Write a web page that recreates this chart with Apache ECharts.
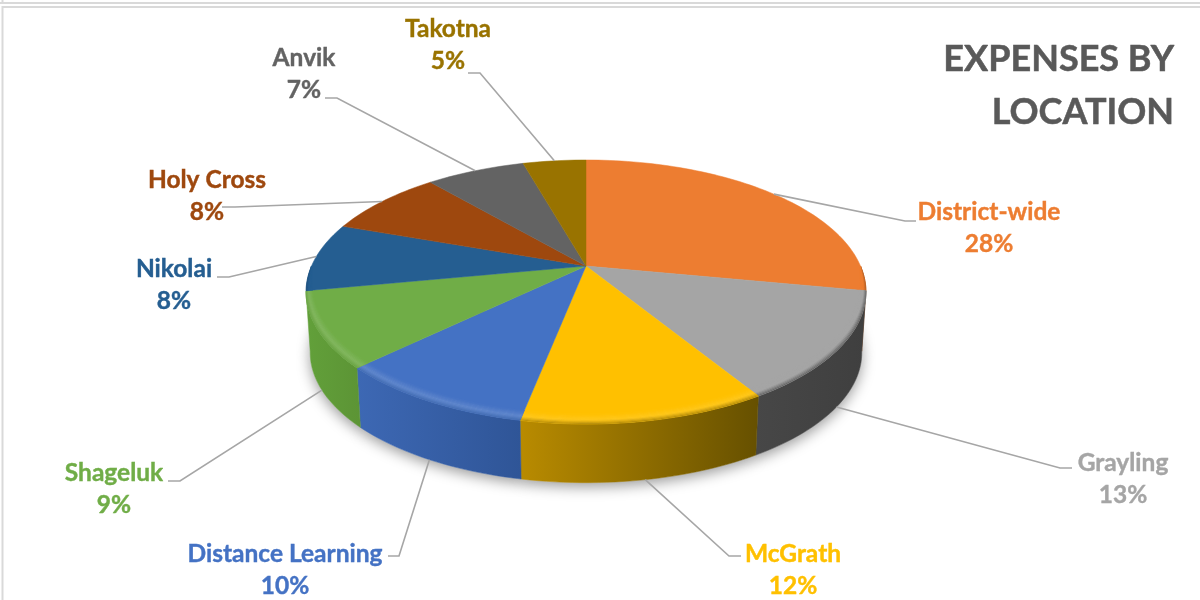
<!DOCTYPE html>
<html lang="en">
<head>
    <meta charset="UTF-8">
    <title>Expenses by location</title>
    <script src="https://cdn.jsdelivr.net/npm/echarts@6/dist/echarts.min.js"></script>
    <style>
        html, body { margin: 0; padding: 0; background: #fff; }
        #main { width: 1200px; height: 600px; }
    </style>
</head>
<body>
<div id="main"></div>
<script type="text/javascript">
    var titleText = 'EXPENSES BY\nLOCATION';
    var locations = ['District-wide', 'Grayling', 'McGrath', 'Distance Learning', 'Shageluk', 'Nikolai', 'Holy Cross', 'Anvik', 'Takotna'];
    var percentLabels = [28, 13, 12, 10, 9, 8, 8, 7, 5];
    var shares = [28, 13.25, 11.85, 9.7, 9.2, 8.4, 8.3, 6.9, 4.4];

    var topColors = ['#ed7d31', '#a5a5a5', '#ffc000', '#4472c4', '#70ad47', '#255e91', '#9e480e', '#636363', '#997300'];
    var sideLeft = ['#8f4c1e', '#474747', '#b98b00', '#3d68b4', '#62a03a', '#1c4a70', '#6e320a', '#444444', '#6b5000'];
    var sideRight = ['#8f4c1e', '#3f3f3f', '#665000', '#2f5597', '#5c9435', '#1c4a70', '#6e320a', '#444444', '#6b5000'];
    var glowAmount = [0, 0, 0.12, 0.16, 0.14, 0, 0, 0, 0];

    // label centre, then leader elbow and the end of the short stub
    var labelCentre = [[989, 228], [1123, 479], [793, 570], [285, 570], [114, 489], [174, 285], [207, 196], [304, 74], [448, 45]];
    var leaderElbow = [[905, 221], [1060, 468], [729, 556], [399, 556], [180, 481], [229, 277], [235, 207], [337, 98], [480, 73]];
    var leaderStub = [[916, 221], [1072, 468], [741, 556], [388, 556], [168, 481], [217, 277], [222, 207], [325, 98], [468, 73]];

    // perspective of the pie: circle (u, v) goes to screen through w = 1 + K * v
    var CX = 586, CY = 266, A = 274.5, B = 126.9, K = 0.197;
    var DEPTH = 61, BOTTOM_SCALE = 0.985, BEVEL = 0.055, BEVEL_STEPS = 10;

    var total = shares.reduce(function (a, b) { return a + b; }, 0);
    var startAngle = [], endAngle = [];
    var running = 0;
    shares.forEach(function (p, i) {
        startAngle[i] = running / total * 360;
        running += p;
        endAngle[i] = running / total * 360;
    });

    function project(deg, r) {
        var t = deg * Math.PI / 180;
        var u = Math.sin(t) * r, v = Math.cos(t) * r;
        var w = 1 + K * v;
        return [CX + A * u / w, CY - B * v / w];
    }
    function bottom(deg) {
        var t = deg * Math.PI / 180;
        var u = Math.sin(t), v = Math.cos(t);
        var w = 1 + K * v;
        return [CX + BOTTOM_SCALE * A * u / w, CY + DEPTH - BOTTOM_SCALE * B * v / w];
    }
    function arc(from, to, fn) {
        var pts = [], n = Math.max(2, Math.ceil(Math.abs(to - from) / 1.5));
        for (var i = 0; i <= n; i++) {
            pts.push(fn(from + (to - from) * i / n));
        }
        return pts;
    }
    function hex(c) {
        return [parseInt(c.substr(1, 2), 16), parseInt(c.substr(3, 2), 16), parseInt(c.substr(5, 2), 16)];
    }
    function mix(a, b, f) {
        var x = hex(a), y = hex(b);
        return '#' + x.map(function (n, i) {
            return ('0' + Math.round(n + (y[i] - n) * f).toString(16)).slice(-2);
        }).join('');
    }
    // bevel only on the front of the rim, thinning out to nothing at the sides
    function bevelWidth(deg) {
        var v = -Math.cos(deg * Math.PI / 180);
        return BEVEL * Math.sqrt(Math.max(0, v));
    }

    function renderShadow(params) {
        var i = params.dataIndex;
        var pts = [[CX, CY + DEPTH]].concat(arc(startAngle[i], endAngle[i], bottom));
        return {
            type: 'polygon',
            shape: { points: pts },
            style: { fill: '#fff', shadowBlur: 14, shadowOffsetY: 4, shadowColor: 'rgba(0,0,0,0.4)' }
        };
    }

    function renderSide(params) {
        var i = params.dataIndex;
        var from = Math.max(startAngle[i], 90), to = Math.min(endAngle[i], 259);
        if (to <= from) {
            return { type: 'group', children: [] };
        }
        var pts = arc(from, to, function (d) { return project(d, 1); })
            .concat(arc(to, from, bottom));
        var fill = new echarts.graphic.LinearGradient(0, 0, 1, 0, [
            { offset: 0, color: sideLeft[i] },
            { offset: 1, color: sideRight[i] }
        ]);
        return {
            type: 'polygon',
            shape: { points: pts },
            style: { fill: fill, stroke: fill, lineWidth: 0.5 }
        };
    }

    function renderTop(params) {
        var i = params.dataIndex;
        var base = topColors[i];
        var wedge = [[CX, CY]].concat(arc(startAngle[i], endAngle[i], function (d) { return project(d, 1); }));
        var children = [{
            type: 'polygon',
            shape: { points: wedge },
            style: { fill: base, stroke: base, lineWidth: 0.5 }
        }];
        var from = Math.max(startAngle[i], 90), to = Math.min(endAngle[i], 270);
        if (to > from) {
            var side = mix(sideLeft[i], sideRight[i], 0.5);
            var glow = mix(base, '#ffffff', glowAmount[i]);
            // outer edge starts from the side colour, then glow, then melts into the top
            for (var j = 0; j < BEVEL_STEPS; j++) {
                var f = (j + 0.5) / BEVEL_STEPS;
                var color = f < 0.4 ? mix(side, glow, 0.3 + 0.7 * f / 0.4) : mix(glow, base, (f - 0.4) / 0.6);
                var outer = arc(from, to, function (d) { return project(d, 1 - bevelWidth(d) * j / BEVEL_STEPS); });
                var inner = arc(to, from, function (d) { return project(d, 1 - bevelWidth(d) * (j + 1) / BEVEL_STEPS); });
                children.push({
                    type: 'polygon',
                    shape: { points: outer.concat(inner) },
                    style: { fill: color, stroke: color, lineWidth: 0.3 }
                });
            }
        }
        return { type: 'group', children: children };
    }

    function renderLabel(params) {
        var i = params.dataIndex;
        var mid = (startAngle[i] + endAngle[i]) / 2;
        var front = mid > 90 && mid < 270;
        var start = front ? bottom(mid) : project(mid, 1);
        return {
            type: 'group',
            children: [{
                type: 'polyline',
                shape: { points: [start, leaderElbow[i], leaderStub[i]] },
                style: { fill: 'none', stroke: '#a6a6a6', lineWidth: 1.6 }
            }, {
                type: 'text',
                x: labelCentre[i][0],
                y: labelCentre[i][1],
                style: {
                    text: locations[i] + '\n' + percentLabels[i] + '%',
                    fill: topColors[i],
                    stroke: topColors[i],
                    lineWidth: 0.4,
                    font: 'bold 24.5px Lato',
                    lineHeight: 32.5,
                    align: 'center',
                    verticalAlign: 'middle'
                }
            }]
        };
    }

    var myChart = echarts.init(document.getElementById('main'));
    var rows = shares.map(function (p, i) { return [i, p]; });
    var option = {
        backgroundColor: '#fff',
        animation: false,
        title: {
            text: titleText,
            left: 1169,
            top: 28,
            textAlign: 'right',
            textStyle: {
                color: '#595959',
                textBorderColor: '#595959',
                textBorderWidth: 0.5,
                fontFamily: 'Lato',
                fontWeight: 'bold',
                fontSize: 36,
                lineHeight: 53
            }
        },
        graphic: [
            { type: 'line', shape: { x1: 0, y1: 3, x2: 1200, y2: 3 }, style: { stroke: '#d9d9d9', lineWidth: 2 } },
            { type: 'line', shape: { x1: 2, y1: 7, x2: 1200, y2: 7 }, style: { stroke: '#d9d9d9', lineWidth: 2 } },
            { type: 'line', shape: { x1: 2.5, y1: 0, x2: 2.5, y2: 3 }, style: { stroke: '#d9d9d9', lineWidth: 2 } },
            { type: 'line', shape: { x1: 2.5, y1: 6, x2: 2.5, y2: 600 }, style: { stroke: '#d9d9d9', lineWidth: 2 } }
        ],
        series: [
            { type: 'custom', name: 'shadow', coordinateSystem: 'none', silent: true, z: 1, data: rows, renderItem: renderShadow },
            { type: 'custom', name: 'side', coordinateSystem: 'none', silent: true, z: 2, data: rows, renderItem: renderSide },
            { type: 'custom', name: 'top', coordinateSystem: 'none', silent: true, z: 3, data: rows, renderItem: renderTop },
            { type: 'custom', name: 'labels', coordinateSystem: 'none', silent: true, z: 4, data: rows, renderItem: renderLabel }
        ]
    };
    myChart.setOption(option);
</script>
</body>
</html>
